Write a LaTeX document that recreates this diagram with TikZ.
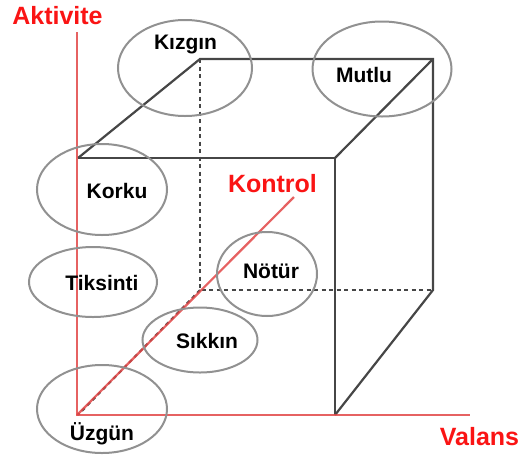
\documentclass[tikz,border=0pt]{standalone}
\usepackage{fontspec}
\setmainfont{Liberation Sans}
\usetikzlibrary{shapes.geometric}
\definecolor{axisred}{RGB}{226,70,70}
\definecolor{labelred}{RGB}{250,20,20}
\definecolor{cubegray}{RGB}{70,70,70}
\definecolor{ringgray}{RGB}{145,145,145}

\begin{document}
\begin{tikzpicture}[x=1pt, y=-1pt,
  ring/.style={draw=ringgray, line width=2pt, ellipse, inner sep=0pt},
  mood/.style={anchor=base, font=\fontsize{21}{24}\selectfont\bfseries},
  axislabel/.style={anchor=base, text=labelred, font=\fontsize{25}{28}\selectfont\bfseries},
  edge/.style={draw=cubegray, line width=2.2pt},
  hidden/.style={draw=cubegray, line width=2pt, dash pattern=on 4pt off 3.5pt},
  axis/.style={draw=axisred, line width=2.2pt, opacity=0.85},
]
  \useasboundingbox (0,0) rectangle (525,459);

  %% ---- cube corners ----
  \coordinate (ftl) at (78,158);
  \coordinate (ftr) at (335,158);
  \coordinate (fbl) at (78,415);
  \coordinate (fbr) at (335,415);
  \coordinate (btl) at (200,59);
  \coordinate (btr) at (433,59);
  \coordinate (bbl) at (200,290);
  \coordinate (bbr) at (433,290);

  %% ---- axis ends ----
  \coordinate (origin) at (77,415);
  \coordinate (aktend) at (77,32);
  \coordinate (valend) at (470,415);
  \coordinate (konend) at (294,197);

  %% ---- cube ----
  \draw[hidden] (btl) -- (bbl) -- (bbr);
  \draw[hidden] (bbl) -- (fbl);
  \draw[edge] (ftl) -- (ftr) -- (fbr);
  \draw[edge] (ftl) -- (btl) -- (btr) -- (bbr) -- (fbr);
  \draw[edge] (ftr) -- (btr);

  %% ---- axes ----
  \draw[axis] (aktend) -- (origin) -- (valend);
  \draw[axis] (origin) -- (konend);
  \node[axislabel] (aktivite) at (57.5,24) {Aktivite};
  \node[axislabel] (kontrol) at (272.5,192) {Kontrol};
  \node[axislabel] (valans) at (479.5,445) {Valans};

  %% ---- moods ----
  \node[ring, minimum width=134pt, minimum height=96pt] (kizgin) at (185,68) {};
  \node[mood] (kizginlbl) at (185.5,49) {Kızgın};
  \node[ring, minimum width=139pt, minimum height=95pt] (mutlu) at (382,69) {};
  \node[mood] (mutlulbl) at (364,82) {Mutlu};
  \node[ring, minimum width=130pt, minimum height=91pt] (korku) at (102,189.5) {};
  \node[mood] (korkulbl) at (117,198) {Korku};
  \node[ring, minimum width=128pt, minimum height=70pt] (tiksinti) at (93,282) {};
  \node[mood] (tiksintilbl) at (102,290) {Tiksinti};
  \node[ring, minimum width=100pt, minimum height=84pt] (notur) at (267,274) {};
  \node[mood] (noturlbl) at (271,278) {Nötür};
  \node[ring, minimum width=115pt, minimum height=65pt] (sikkin) at (200,340) {};
  \node[mood] (sikkinlbl) at (207,348) {Sıkkın};
  \node[ring, minimum width=130pt, minimum height=88pt] (uzgun) at (102,409) {};
  \node[mood] (uzgunlbl) at (102,440) {Üzgün};
\end{tikzpicture}
\end{document}
